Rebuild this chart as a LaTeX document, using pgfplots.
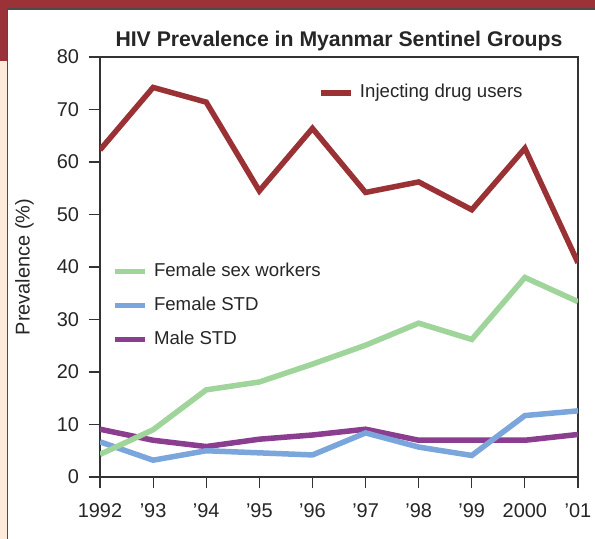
\documentclass[border=0pt]{standalone}
\usepackage{pgfplots}
\pgfplotsset{compat=1.18}
\usepackage{fontspec}
\setmainfont{Liberation Sans}
\definecolor{idu}{HTML}{9A3135}
\definecolor{fsw}{HTML}{9FD49A}
\definecolor{fstd}{HTML}{7AA6DC}
\definecolor{mstd}{HTML}{8B3D90}
\definecolor{band}{HTML}{9A3237}
\definecolor{cream}{HTML}{FDEAD8}
\definecolor{frame}{HTML}{333333}
\begin{document}
\begin{tikzpicture}[x=1bp,y=1bp]
\useasboundingbox (0,0) rectangle (595,539);
\fill[white] (0,0) rectangle (595,539);
\fill[band] (0,530.5) rectangle (595,539);
\fill[band] (0,478) rectangle (6.5,539);
\fill[cream] (0,0) rectangle (6.5,478);
\draw[draw=black!70, line width=1.6bp] (7.3,0) -- (7.3,529.7) -- (595,529.7);
\pgfplotsset{
  common/.style={
    at={(100bp,62bp)}, anchor=south west,
    scale only axis, width=478bp, height=420bp,
    xmin=0, xmax=9, ymin=0, ymax=80,
    legend image code/.code={\draw[##1, line width=5.5bp] (0bp,0bp) -- (30bp,0bp);},
  },
}
\begin{axis}[
  common,
  axis line style={frame, line width=1.2bp},
  xtick={0,...,9},
  xticklabels={1992,’93,’94,’95,’96,’97,’98,’99,2000,’01},
  ytick={0,10,...,80},
  xtick pos=left, ytick pos=left,
  tick align=outside,
  major tick length=11.5bp,
  tick style={frame, line width=1.2bp},
  /pgf/number format/assume math mode=true,
  tick label style={font=\fontsize{20}{24}\selectfont, text=black!85},
  yticklabel style={xshift=-6bp},
  xticklabel style={yshift=-12bp},
  every axis title/.style={at={(0.5,1)}, anchor=base, yshift=10bp,
    font=\bfseries\fontsize{21.3}{25}\selectfont, text=black!85},
  title={HIV Prevalence in Myanmar Sentinel Groups},
  every axis y label/.style={at={(axis description cs:-0.158,0.5)}, rotate=90, anchor=center,
    font=\fontsize{20}{24}\selectfont, text=black!85},
  ylabel={Prevalence (\%)},
  reverse legend,
  legend style={draw=none, fill=none, at={(axis description cs:0.0251,0.5095)}, anchor=north west,
    inner sep=0pt, outer sep=0pt, row sep=17bp, column sep=6.5bp,
    font=\fontsize{18.7}{22}\selectfont, text=black!85,
    nodes={inner sep=0pt, text height=13bp, text depth=4bp}},
  legend cell align=left,
]
\addplot[mstd, line width=5.5bp] coordinates {(0,9.1) (1,7.0) (2,5.8) (3,7.2) (4,8.0) (5,9.1) (6,7.0) (7,7.0) (8,7.0) (9,8.1)};
\addlegendentry{Male STD}
\addplot[fstd, line width=5.5bp] coordinates {(0,6.7) (1,3.2) (2,5.0) (3,4.6) (4,4.2) (5,8.4) (6,5.7) (7,4.1) (8,11.7) (9,12.6)};
\addlegendentry{Female STD}
\addplot[fsw, line width=5.5bp] coordinates {(0,4.3) (1,9.0) (2,16.6) (3,18.1) (4,21.5) (5,25.1) (6,29.3) (7,26.2) (8,38.0) (9,33.4)};
\addlegendentry{Female sex workers}
\end{axis}
\begin{axis}[
  common, hide axis,
  legend style={draw=none, fill=none, at={(axis description cs:0.456,0.935)}, anchor=north west,
    inner sep=0pt, outer sep=0pt, column sep=6.5bp,
    font=\fontsize{18.7}{22}\selectfont, text=black!85,
    nodes={inner sep=0pt, text height=13bp, text depth=4bp}},
  legend cell align=left,
]
\addplot[idu, line width=5.5bp] coordinates {(0,62.3) (1,74.2) (2,71.4) (3,54.5) (4,66.4) (5,54.2) (6,56.2) (7,50.9) (8,62.6) (9,40.8)};
\addlegendentry{Injecting drug users}
\end{axis}
\end{tikzpicture}
\end{document}
